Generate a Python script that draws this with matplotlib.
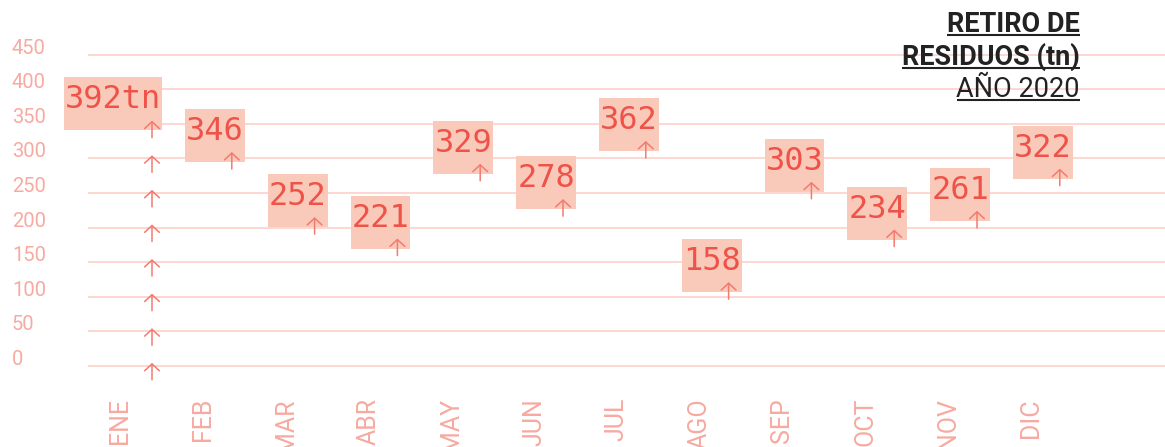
import numpy as np
import matplotlib.pyplot as plt
from matplotlib.patches import Rectangle


months = ["ENE", "FEB", "MAR", "ABR", "MAY", "JUN", "JUL", "AGO", "SEP", "OCT", "NOV", "DIC"]
tonnes = [392, 346, 252, 221, 329, 278, 362, 158, 303, 234, 261, 322]
y_ticks = [0, 50, 100, 150, 200, 250, 300, 350, 400, 450]
title_lines = ["RETIRO DE", "RESIDUOS (tn)", "AÑO 2020"]


grid_color = "#fdd3ce"
soft_color = "#f7aaa1"
box_color = "#f9c9b9"
value_color = "#ee5248"
arrow_color = "#f47a70"

# pixel layout: month i sits at 120 + 82.8*i px, value v at 366 - 0.692*v px
px_x = 82.8
px_y = 0.692

fig = plt.figure(figsize=(11.65, 4.47), dpi=100)
ax = fig.add_axes([0, 0, 1, 1])
ax.set_xlim(-120 / px_x, (1165 - 120) / px_x)
ax.set_ylim((366 - 447) / px_y, 366 / px_y)
ax.axis("off")

# grid lines
ax.hlines(y_ticks, (88 - 120) / px_x, (1165 - 120) / px_x, color=grid_color, lw=1.3, zorder=0)
for t in y_ticks:
    ax.text((12 - 120) / px_x, t + 1 / px_y, str(t), ha="left", va="baseline", fontsize=14.5,
            family="Roboto", color=soft_color)

# month labels (the reference crops the longest ones at the bottom edge)
for i, m in enumerate(months):
    ax.text(i, (366 - 398) / px_y, m, rotation=90, ha="center", va="top", fontsize=18,
            family="Roboto", color=soft_color)


def arrow(x, tip, tail):
    ax.annotate("", xy=(x, tip), xytext=(x, tail), zorder=4,
                arrowprops=dict(arrowstyle="->,head_length=0.35,head_width=0.38", color=arrow_color,
                                lw=1.1, shrinkA=0, shrinkB=0, mutation_scale=14))


# column of arrows under January
for t in y_ticks[:-2]:
    arrow(32 / px_x, t + 4.5, t - 20)

fig.canvas.draw()
renderer = fig.canvas.get_renderer()
inv = ax.transData.inverted()

half_h = 26.5 / px_y
for i, v in enumerate(tonnes):
    label = f"{v}tn" if i == 0 else str(v)
    right = i + 42 / px_x
    centre = v - 13
    top = centre + half_h
    bottom = centre - half_h
    txt = ax.text(right - 1 / px_x, top - 31 / px_y, label, ha="right", va="baseline",
                  fontsize=23, family="DejaVu Sans Mono", color=value_color, zorder=3)
    ext = txt.get_window_extent(renderer)
    left = inv.transform((ext.x0 - 1, 0))[0]
    ax.add_patch(Rectangle((left, bottom), right - left, top - bottom, facecolor=box_color,
                           edgecolor="none", zorder=2))
    if i > 0:
        ax_x = right - 13 / px_x
        arrow(ax_x, bottom + 10 / px_y, bottom - 7 / px_y)

# title block, right aligned, underlined
title_x = (1080 - 120) / px_x
baselines = [32, 65, 97]
for line, base in zip(title_lines, baselines):
    weight = "normal" if line.startswith("AÑO") else "bold"
    t = ax.text(title_x, (366 - base) / px_y, line, ha="right", va="baseline", fontsize=19.5,
                family="Roboto", weight=weight, color="#222222", zorder=5)
    ext = t.get_window_extent(renderer)
    x0 = inv.transform((ext.x0, 0))[0]
    y_u = (366 - base - 3) / px_y
    ax.plot([x0, title_x], [y_u, y_u], color="#222222", lw=1.5, zorder=5, solid_capstyle="butt")

fig.savefig("out.png", dpi=100)
